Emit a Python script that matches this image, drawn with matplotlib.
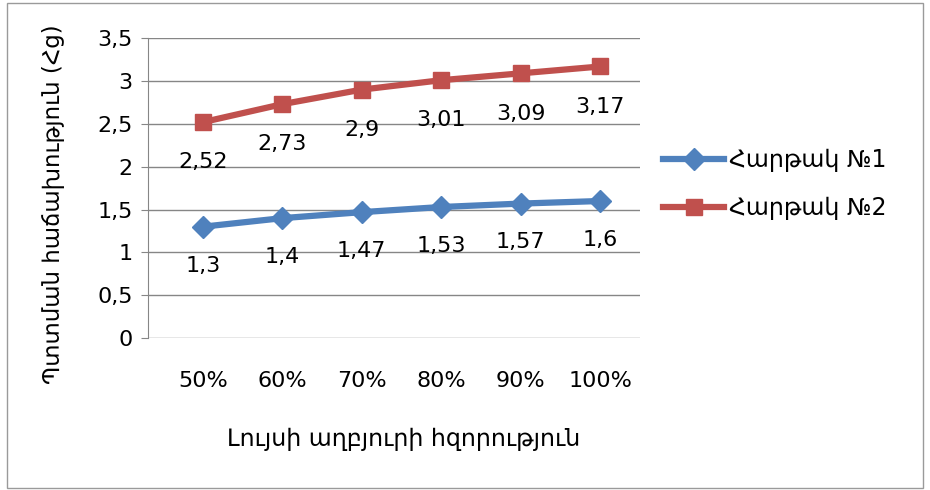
import matplotlib
matplotlib.use("Agg")
import matplotlib.pyplot as plt
from matplotlib.patches import Rectangle

# data
categories = ["50%", "60%", "70%", "80%", "90%", "100%"]
platform1 = [1.3, 1.4, 1.47, 1.53, 1.57, 1.6]
platform2 = [2.52, 2.73, 2.9, 3.01, 3.09, 3.17]
series_names = ["Հարթակ №1", "Հարթակ №2"]
y_ticks = [0, 0.5, 1, 1.5, 2, 2.5, 3, 3.5]

x_title = "Լույսի աղբյուրի հզորություն"
y_title = "Պտտման հաճախություն (Հց)"

plt.rcParams["font.family"] = ["DejaVu Sans"]
plt.rcParams["font.size"] = 15


def comma(v):
    return ("%g" % v).replace(".", ",")


fig = plt.figure(figsize=(9.3, 4.9), dpi=100)
ax = fig.add_axes([0.159, 0.310, 0.529, 0.612])

x = list(range(len(categories)))
blue = "#4F81BD"
red = "#C0504D"

ax.plot(x, platform1, color=blue, lw=4.5, marker="D", ms=11,
        label=series_names[0], zorder=3)
ax.plot(x, platform2, color=red, lw=4.5, marker="s", ms=12,
        label=series_names[1], zorder=3)

for xi, v in zip(x, platform1):
    ax.annotate(comma(v), (xi, v), xytext=(0, -28), textcoords="offset points",
                ha="center", va="center", fontsize=16)
for xi, v in zip(x, platform2):
    ax.annotate(comma(v), (xi, v), xytext=(0, -29), textcoords="offset points",
                ha="center", va="center", fontsize=16)

ax.set_ylim(0, 3.5)
ax.set_xlim(-0.69, 5.5)
ax.set_yticks(y_ticks)
ax.set_yticklabels([comma(t) for t in y_ticks], fontsize=16)
ax.set_xticks(x)
ax.set_xticklabels(categories, fontsize=16)
ax.tick_params(axis="x", length=0, pad=24)
ax.tick_params(axis="y", length=5, color="#868686", pad=6)

ax.grid(axis="y", color="#868686", lw=1)
ax.set_axisbelow(True)
for side in ["top", "right", "bottom"]:
    ax.spines[side].set_visible(False)
ax.spines["left"].set_color("#868686")

ax.set_xlabel(x_title, fontsize=17)
ax.xaxis.set_label_coords(0.52, -0.295)
ax.set_ylabel(y_title, fontsize=16.5)
ax.yaxis.set_label_coords(-0.168, 0.445)

fig.legend(loc="center left", bbox_to_anchor=(0.69, 0.624), frameon=False,
           fontsize=17, handlelength=2.6, labelspacing=1.0, handletextpad=0.2)

fig.patches.append(Rectangle((0.008, 0.004), 0.985, 0.99, transform=fig.transFigure,
                             fill=False, edgecolor="#9a9a9a", lw=1))

fig.savefig("out.png", dpi=100)
